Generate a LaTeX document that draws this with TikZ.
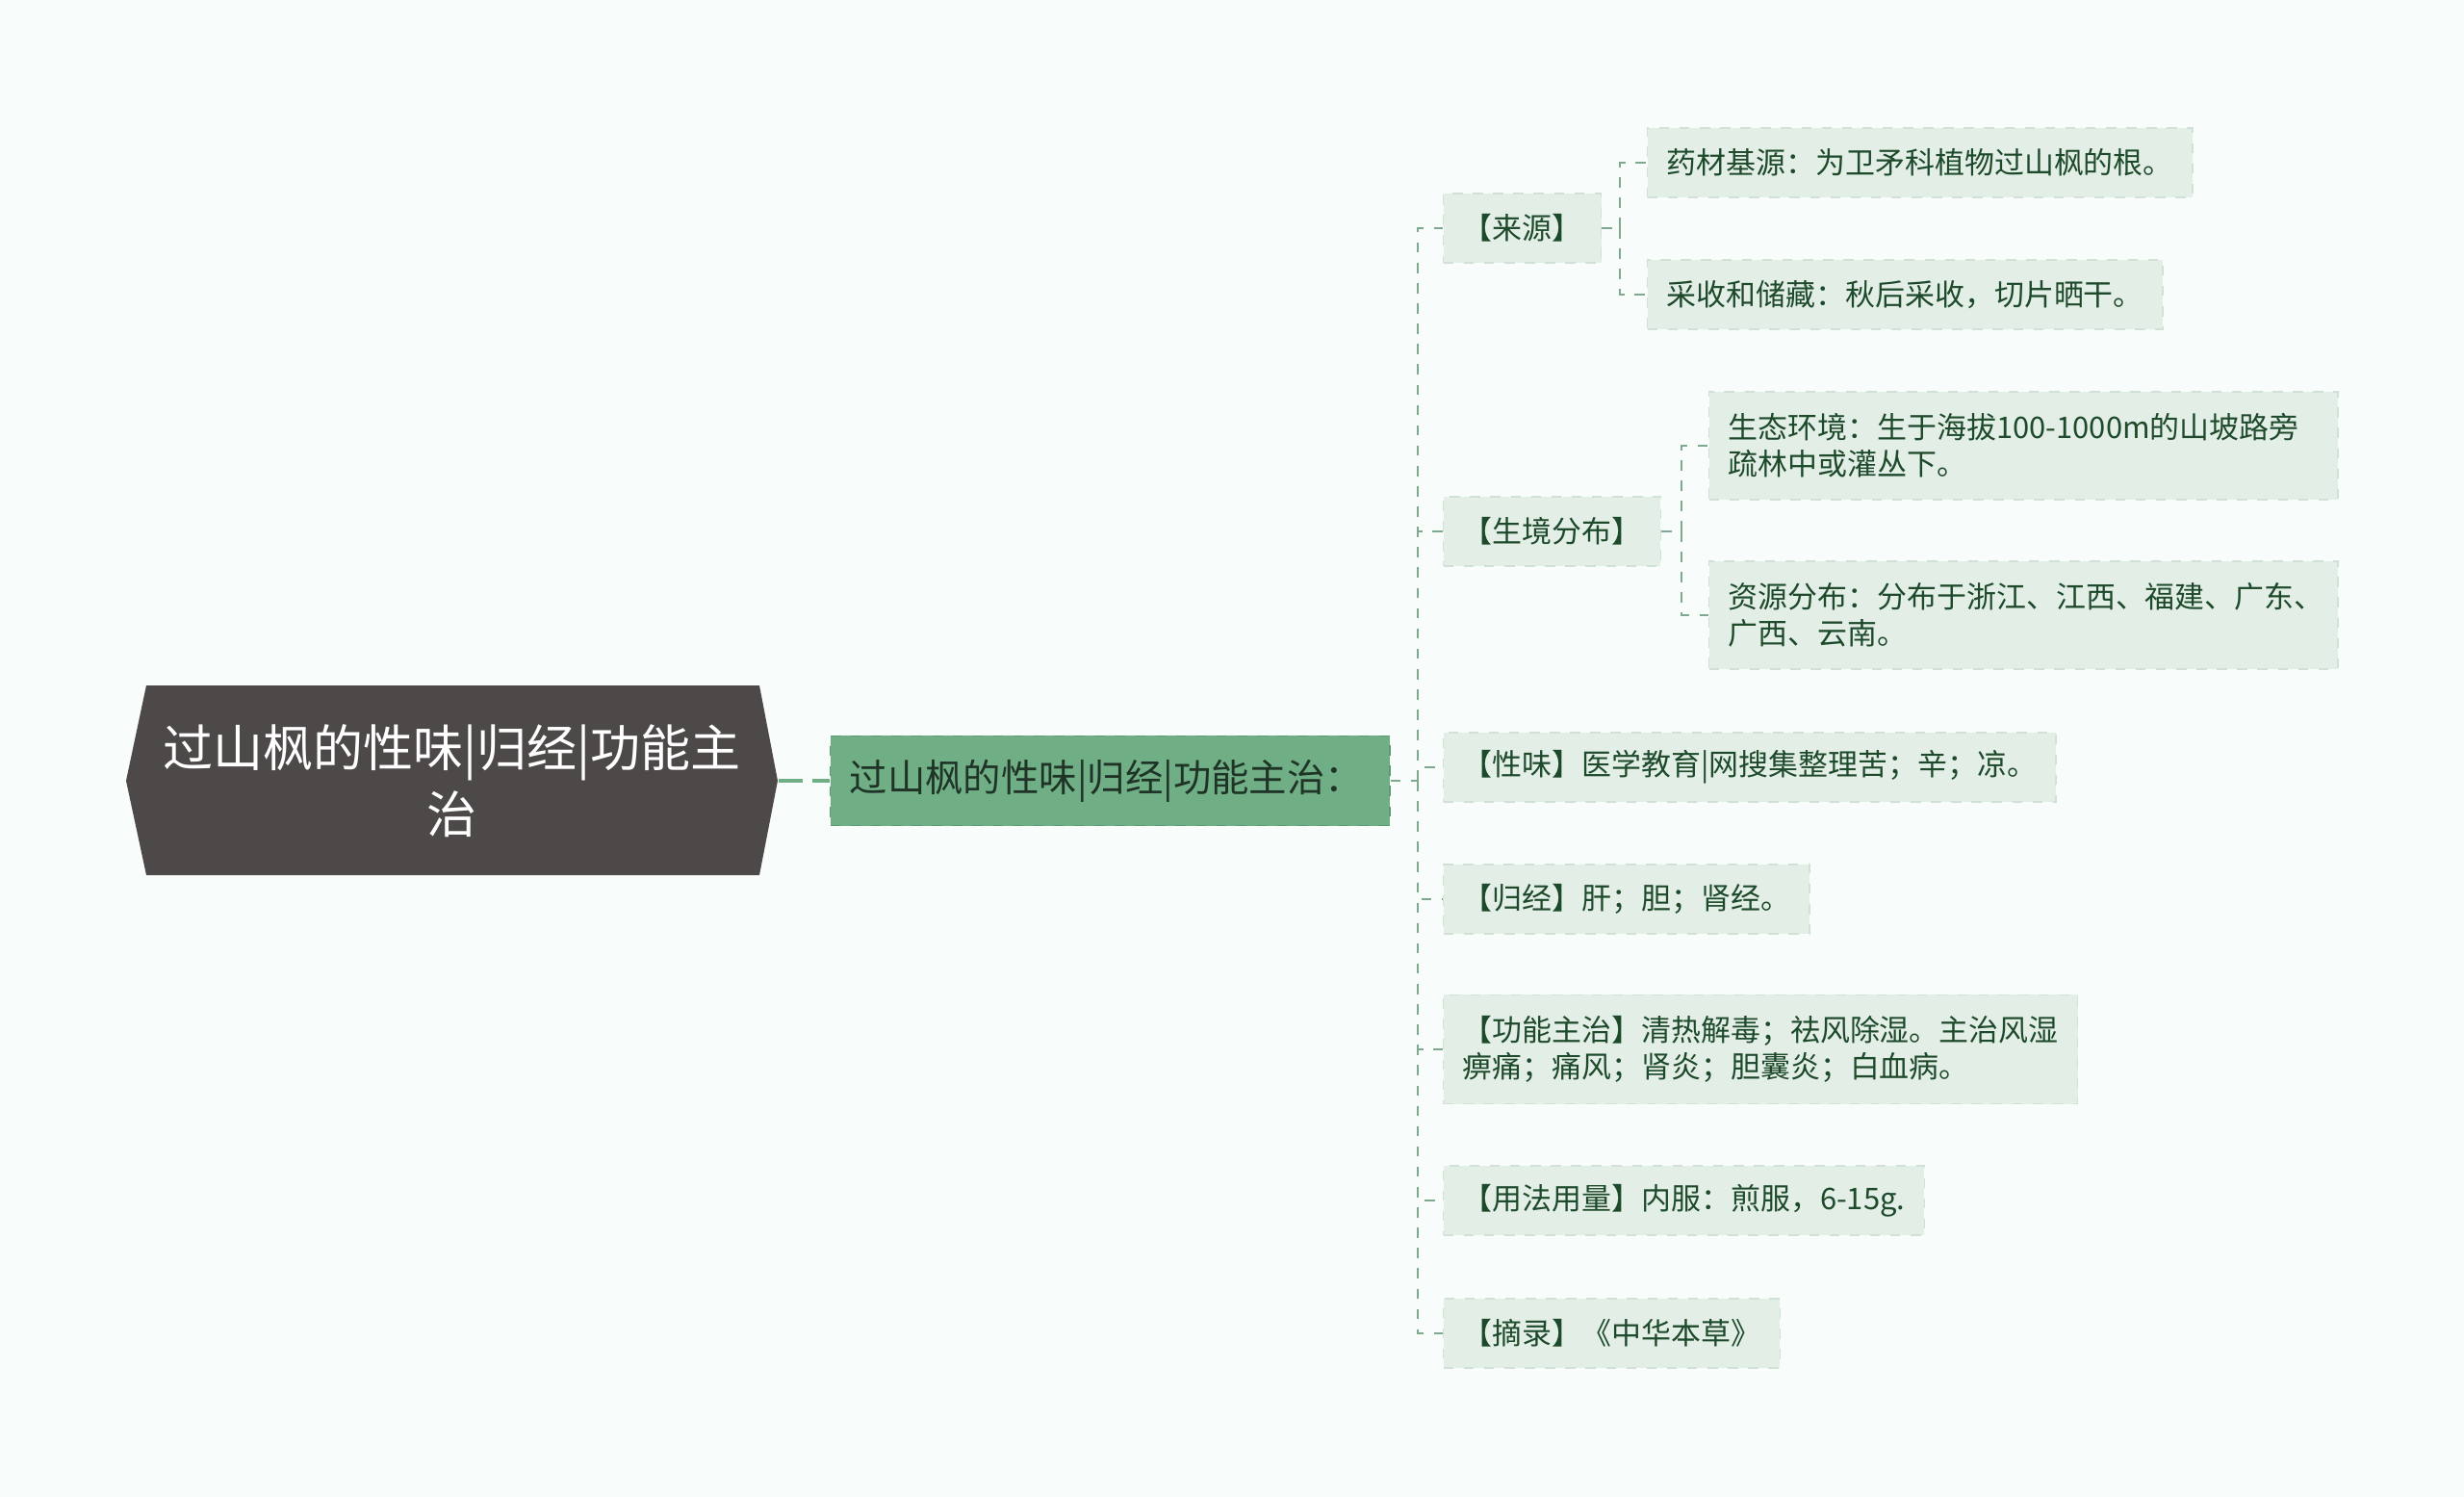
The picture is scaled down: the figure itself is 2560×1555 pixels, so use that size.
\documentclass[tikz,border=0pt]{standalone}
\usepackage{fontspec}
\setmainfont{Noto Sans CJK SC}
\usetikzlibrary{calc}

\definecolor{bgpaper}{HTML}{F8FCFB}
\definecolor{rootgray}{HTML}{4D4949}
\definecolor{maingreen}{HTML}{70AF86}
\definecolor{mainedge}{HTML}{5E9A73}
\definecolor{mainink}{HTML}{1F3326}
\definecolor{leafgreen}{HTML}{E3EEE6}
\definecolor{leafedge}{HTML}{D0E2D5}
\definecolor{linkgreen}{HTML}{7FA98E}
\definecolor{inkgreen}{HTML}{1E4A2C}

\begin{document}
\begin{tikzpicture}[x=0.01cm, y=-0.01cm]

% Styles
\tikzset{
  roottext/.style={text=white, align=center, inner sep=0pt,
    minimum width=6.77cm, minimum height=1.97cm,
    font=\fontsize{14.8pt}{19.6pt}\selectfont},
  mainbox/.style={fill=maingreen, draw=mainedge, dashed, anchor=west,
    align=left, text width=5.41cm, inner xsep=0.2cm, minimum height=0.93cm,
    text=mainink, font=\fontsize{11.2pt}{13.5pt}\selectfont},
  leaf/.style={fill=leafgreen, draw=leafedge, dashed, anchor=west,
    align=left, inner xsep=0.2cm, minimum height=0.72cm, text=inkgreen,
    font=\fontsize{8.8pt}{10.8pt}\selectfont},
  tallleaf/.style={leaf, text width=6.13cm, minimum height=1.12cm},
  link/.style={linkgreen, line width=0.6pt, dash pattern=on 3pt off 3pt},
  rootlink/.style={maingreen, line width=1.2pt, dash pattern=on 7pt off 3pt}
}

% Paper
\fill[bgpaper] (0,0) rectangle (2560,1555);

% Root
\fill[rootgray] (131,811) -- (152,712) -- (789,712) -- (808,811)
  -- (789,909) -- (152,909) -- cycle;
\node[roottext] (root) at (469.5,811) {过山枫的性味|归经|功能主\\治};

% Main topic
\node[mainbox] (main) at (862,811) {过山枫的性味|归经|功能主治：};

% Branches
\node[leaf] (src) at (1499,237) {【来源】};
\node[leaf] (src1) at (1711,169) {药材基源：为卫矛科植物过山枫的根。};
\node[leaf] (src2) at (1711,306) {采收和储藏：秋后采收，切片晒干。};

\node[leaf] (habitat) at (1499,552) {【生境分布】};
\node[tallleaf] (hab1) at (1775,463) {生态环境：生于海拔100-1000m的山坡路旁\\疏林中或灌丛下。};
\node[tallleaf] (hab2) at (1775,639) {资源分布：分布于浙江、江西、福建、广东、\\广西、云南。};

\node[leaf] (taste) at (1499,797) {【性味】医学教育|网搜集整理苦；辛；凉。};
\node[leaf] (meridian) at (1499,934) {【归经】肝；胆；肾经。};
\node[leaf, minimum height=1.13cm] (func) at (1499,1090) {【功能主治】清热解毒；祛风除湿。主治风湿\\痹痛；痛风；肾炎；胆囊炎；白血病。};
\node[leaf] (usage) at (1499,1247) {【用法用量】内服：煎服，6-15g.};
\node[leaf] (ref) at (1499,1385) {【摘录】《中华本草》};

% Coordinates
\coordinate (mainfork) at (1473,811);
\coordinate (srcfork) at (1683,237);
\coordinate (habfork) at (1747,552);

% Connectors
\draw[rootlink] (root.east) -- (main.west);
\draw[link] (main.east) -- (mainfork);
\foreach \n in {src,habitat,taste,meridian,func,usage,ref}
  \draw[link] (mainfork) |- (\n.west);

\draw[link] (src.east) -- (srcfork);
\draw[link] (srcfork) |- (src1.west);
\draw[link] (srcfork) |- (src2.west);

\draw[link] (habitat.east) -- (habfork);
\draw[link] (habfork) |- (hab1.west);
\draw[link] (habfork) |- (hab2.west);

\end{tikzpicture}
\end{document}
